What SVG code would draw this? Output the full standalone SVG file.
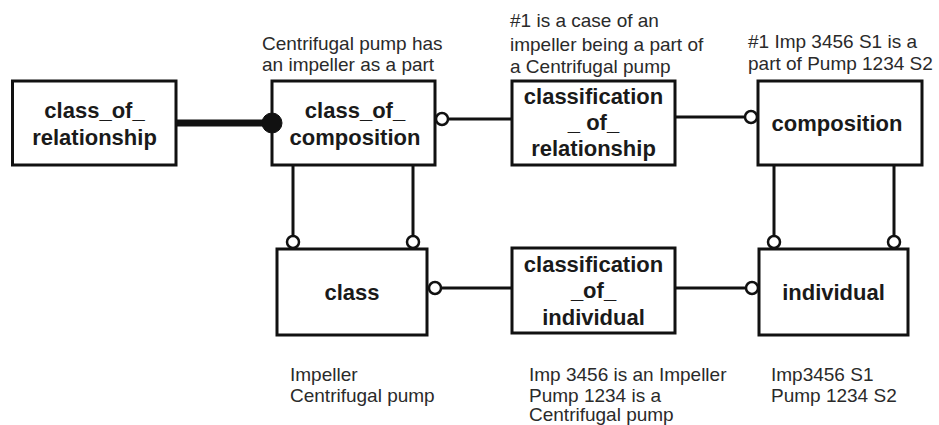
<svg xmlns="http://www.w3.org/2000/svg" width="939" height="425" viewBox="0 0 939 425">
<style>
.box{fill:#fff;stroke:#111;stroke-width:3}
.lbl{font-family:"Liberation Sans",Arial,sans-serif;font-weight:bold;font-size:22px;fill:#1a1a1a;text-anchor:middle}
.note{font-family:"Liberation Sans",Arial,sans-serif;font-size:19px;fill:#2a2a2a}
.ln{stroke:#111;stroke-width:3;fill:none}
.heavy{stroke:#111;stroke-width:7;fill:none}
.oc{fill:#fff;stroke:#111;stroke-width:2.5}
.fc{fill:#111;stroke:#111;stroke-width:1}
</style>
<rect width="939" height="425" fill="#fff"/>
<g id="class_of_relationship">
<rect class="box" x="12.5" y="81" width="163.5" height="84"/>
<text class="lbl" x="94.5" y="118">class_of_</text>
<text class="lbl" x="94.5" y="145">relationship</text>
</g>
<g id="class_of_composition">
<rect class="box" x="272" y="81" width="163" height="84"/>
<text class="lbl" x="355" y="118">class_of_</text>
<text class="lbl" x="355" y="145">composition</text>
</g>
<g id="classification_of_relationship">
<rect class="box" x="512" y="81" width="163" height="84"/>
<text class="lbl" x="593.5" y="104">classification</text>
<text class="lbl" x="593.5" y="130">_ of_</text>
<text class="lbl" x="593.5" y="156">relationship</text>
</g>
<g id="composition">
<rect class="box" x="758" y="81" width="164" height="84"/>
<text class="lbl" x="837" y="131">composition</text>
</g>
<g id="class">
<rect class="box" x="277" y="249" width="150" height="86"/>
<text class="lbl" x="352" y="300">class</text>
</g>
<g id="classification_of_individual">
<rect class="box" x="512" y="248" width="163" height="85"/>
<text class="lbl" x="593.5" y="272">classification</text>
<text class="lbl" x="593.5" y="298">_of_</text>
<text class="lbl" x="593.5" y="325">individual</text>
</g>
<g id="individual">
<rect class="box" x="759" y="249" width="149" height="86"/>
<text class="lbl" x="833.5" y="300">individual</text>
</g>
<g id="connectors">
<line class="heavy" x1="176" y1="123" x2="264" y2="123"/>
<circle class="fc" cx="272" cy="123" r="10"/>
<line class="ln" x1="448" y1="119" x2="512" y2="119"/>
<circle class="oc" cx="442" cy="119" r="6"/>
<line class="ln" x1="675" y1="117" x2="744" y2="117"/>
<circle class="oc" cx="751" cy="117" r="6"/>
<line class="ln" x1="293" y1="165" x2="293" y2="236"/>
<circle class="oc" cx="293" cy="242" r="6"/>
<line class="ln" x1="413" y1="165" x2="413" y2="236"/>
<circle class="oc" cx="413" cy="242" r="6"/>
<line class="ln" x1="774" y1="165" x2="774" y2="236"/>
<circle class="oc" cx="774" cy="242" r="6"/>
<line class="ln" x1="894" y1="165" x2="894" y2="236"/>
<circle class="oc" cx="894" cy="242" r="6"/>
<line class="ln" x1="441" y1="288" x2="512" y2="288"/>
<circle class="oc" cx="435" cy="288" r="6"/>
<line class="ln" x1="675" y1="288" x2="745" y2="288"/>
<circle class="oc" cx="752" cy="288" r="6"/>
</g>
<g id="notes">
<text class="note" x="262" y="50">Centrifugal pump has</text>
<text class="note" x="262" y="71">an impeller as a part</text>
<text class="note" x="510" y="27">#1 is a case of an</text>
<text class="note" x="510" y="51">impeller being a part of</text>
<text class="note" x="510" y="73">a Centrifugal pump</text>
<text class="note" x="748" y="48">#1 Imp 3456 S1 is a</text>
<text class="note" x="748" y="70">part of Pump 1234 S2</text>
<text class="note" x="290" y="381">Impeller</text>
<text class="note" x="290" y="402">Centrifugal pump</text>
<text class="note" x="529" y="381">Imp 3456 is an Impeller</text>
<text class="note" x="529" y="402">Pump 1234 is a</text>
<text class="note" x="529" y="421">Centrifugal pump</text>
<text class="note" x="771" y="381">Imp3456 S1</text>
<text class="note" x="771" y="402">Pump 1234 S2</text>
</g>
</svg>
